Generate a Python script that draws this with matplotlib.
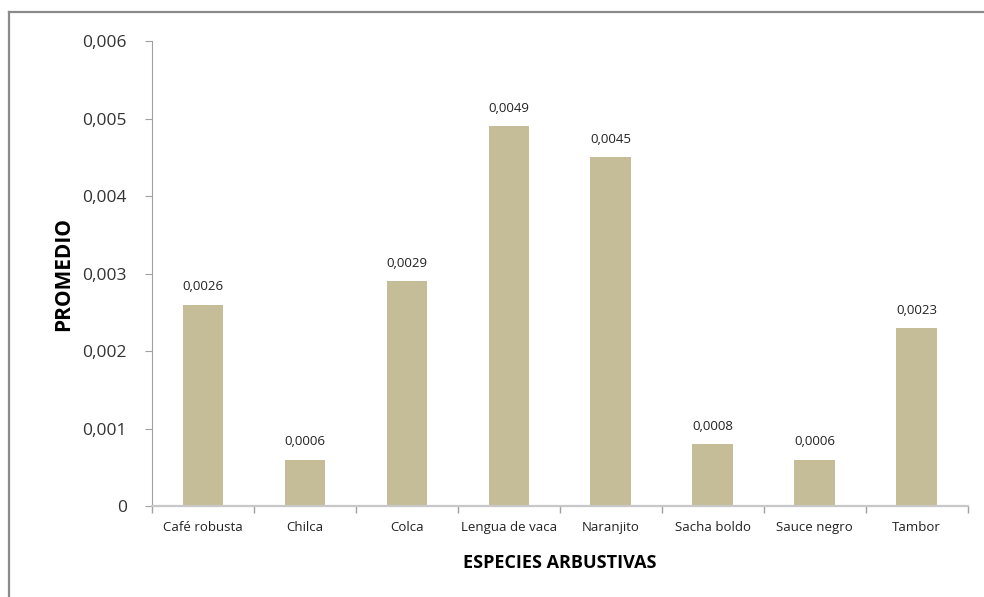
import matplotlib.pyplot as plt
from matplotlib.lines import Line2D
from matplotlib.ticker import FuncFormatter, MultipleLocator

especies = ['Café robusta', 'Chilca', 'Colca', 'Lengua de vaca',
            'Naranjito', 'Sacha boldo', 'Sauce negro', 'Tambor']
promedio = [0.0026, 0.0006, 0.0029, 0.0049, 0.0045, 0.0008, 0.0006, 0.0023]

plt.rcParams['font.family'] = ['Open Sans', 'DejaVu Sans']

fig = plt.figure(figsize=(9.84, 5.97), dpi=100)
ax = fig.add_axes([0.1545, 0.1524, 0.829, 0.7789])

# marco gris del grafico (solo arriba e izquierda)
fig.add_artist(Line2D([9 / 984, 1], [1 - 12 / 597] * 2, color='#8a8a8a', lw=1.6,
                      transform=fig.transFigure))
fig.add_artist(Line2D([9 / 984] * 2, [0, 1 - 12 / 597], color='#8a8a8a', lw=1.6,
                      transform=fig.transFigure))

x = list(range(len(especies)))
ax.bar(x, promedio, width=0.4, color='#C4BD97')
for xi, v in zip(x, promedio):
    ax.annotate(f'{v:.4f}'.replace('.', ','), (xi, v), xytext=(0, 8),
                textcoords='offset points', ha='center', va='bottom',
                fontsize=9.5, color='#222222')

ax.set_xlim(-0.5, len(especies) - 0.5)
ax.set_ylim(0, 0.006)
ax.yaxis.set_major_locator(MultipleLocator(0.001))
ax.yaxis.set_major_formatter(FuncFormatter(
    lambda v, _: '0' if v == 0 else f'{v:.3f}'.replace('.', ',')))

ax.set_xticks(x)
ax.set_xticklabels(especies, fontsize=9.5, color='#222222')
ax.set_xticks([i - 0.5 for i in range(len(especies) + 1)], minor=True)
ax.tick_params(axis='x', which='major', length=0, pad=11)
ax.tick_params(axis='x', which='minor', length=5, color='#a0a0a0', width=1)
ax.tick_params(axis='y', length=5, color='#a0a0a0', labelsize=12.5,
               labelcolor='#333333', pad=13)

for s in ['top', 'right']:
    ax.spines[s].set_visible(False)
ax.spines['left'].set_color('#a0a0a0')
ax.spines['bottom'].set_color('#c8c8c8')
ax.spines['bottom'].set_linewidth(1.6)

ax.set_xlabel('ESPECIES ARBUSTIVAS', fontsize=13, fontweight='bold', labelpad=14)
ax.set_ylabel('PROMEDIO', fontsize=15, fontweight='bold', labelpad=6)

fig.savefig('out.png', dpi=100)
